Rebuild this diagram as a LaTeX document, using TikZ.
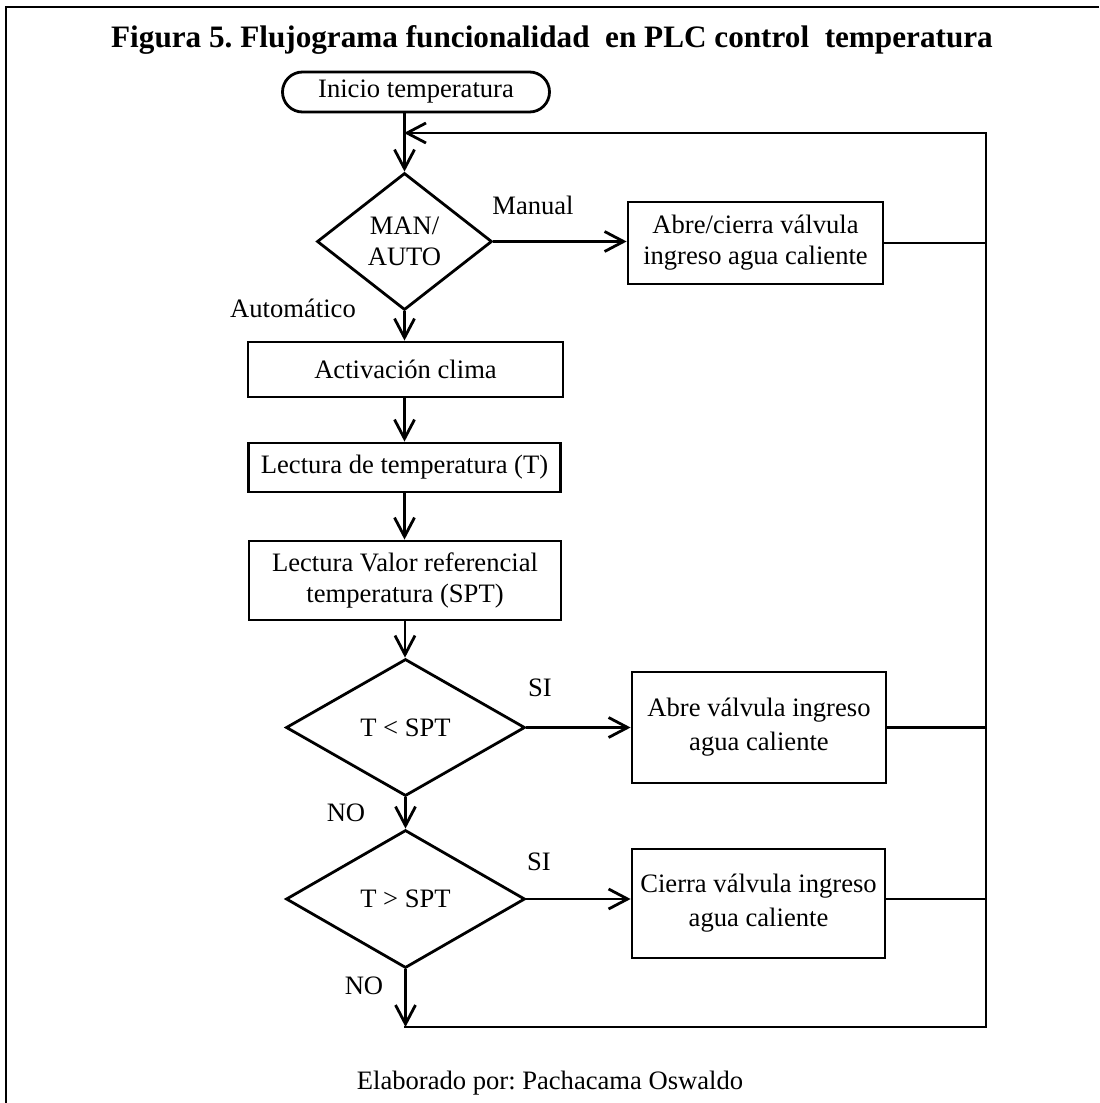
\documentclass[tikz,border=0pt]{standalone}
\usepackage{fontspec}
\setmainfont{Liberation Serif}
\usetikzlibrary{arrows.meta,shapes.geometric,shapes.misc}
\frenchspacing
\begin{document}
\begin{tikzpicture}[x=0.5pt,y=-0.5pt,
  line width=1.4pt,
  font=\fontsize{13.3}{15.5}\selectfont,
  flow/.style={-{Straight Barb[length=9.5pt,width=10pt]}},
  box/.style={draw,rectangle,inner sep=0pt,align=center},
  cond/.style={draw,diamond,inner sep=0pt,align=center},
  term/.style={draw,rounded rectangle,inner sep=0pt},
  lbl/.style={inner sep=0pt}]
\useasboundingbox (0,0) rectangle (1099,1103);

% page frame (top and left edges)
\draw[line width=1pt] (1099,7) -- (6,7) -- (6,1103);

% title and credit
\node[lbl,font=\fontsize{15.6}{18}\selectfont\bfseries] (title) at (552,40)
  {Figura 5. Flujograma funcionalidad\ \ en PLC control\ \ temperatura};
\node[lbl] (credit) at (550,1083) {Elaborado por: Pachacama Oswaldo};

% flow nodes
\node[term,minimum width=133.5pt,minimum height=20pt] (start) at (416,92) {Inicio temperatura};
\node[cond,minimum width=87.5pt,minimum height=68.5pt] (mode) at (404.5,241.5) {MAN/\\AUTO};
\node[box,minimum width=127.5pt,minimum height=41pt] (manual) at (755.5,243)
  {Abre/cierra válvula\\ingreso agua caliente};
\node[box,minimum width=157.5pt,minimum height=27.5pt] (clima) at (405.5,369.5) {Activación clima};
\node[box,minimum width=156pt,minimum height=24.5pt] (readT) at (404.5,467.5) {Lectura de temperatura (T)};
\node[box,minimum width=156pt,minimum height=39.5pt] (readSP) at (405,580.5)
  {Lectura Valor referencial\\temperatura (SPT)};
\node[cond,minimum width=119.5pt,minimum height=68.5pt] (lt) at (405.5,727.5) {T < SPT};
\node[box,minimum width=127pt,minimum height=55.5pt,font=\fontsize{13.3}{17}\selectfont] (open) at (759,727.5)
  {Abre válvula ingreso\\agua caliente};
\node[cond,minimum width=119.5pt,minimum height=69pt] (gt) at (405.5,899) {T > SPT};
\node[box,minimum width=126.5pt,minimum height=54.5pt,font=\fontsize{13.3}{17}\selectfont] (close) at (758.5,903.5)
  {Cierra válvula ingreso\\agua caliente};

% return loop corners
\coordinate (bl) at (404,1027);
\coordinate (br) at (986,1027);
\coordinate (tr) at (986,133);
\coordinate (tl) at (404,133);

% branch labels
\node[lbl] (lman) at (533,205) {Manual};
\node[lbl] (lauto) at (293,308) {Automático};
\node[lbl] (lsi1) at (540,688) {SI};
\node[lbl] (lno1) at (346,813) {NO};
\node[lbl] (lsi2) at (539,862) {SI};
\node[lbl] (lno2) at (364,986) {NO};

% connectors
\draw[flow] (start.south -| mode.north) -- (mode.north);
\draw[flow] (mode.east) -- (mode.east -| manual.west);
\draw[flow] (mode.south) -- (mode.south |- clima.north);
\draw[flow] (clima.south -| readT.north) -- (readT.north);
\draw[flow] (readT.south) -- (readT.south |- readSP.north);
\draw[flow] (readSP.south) -- (readSP.south |- lt.north);
\draw[flow] (lt.east) -- (lt.east -| open.west);
\draw[flow] (lt.south) -- (gt.north);
\draw[flow] (gt.east) -- (gt.east -| close.west);
\draw[flow] (gt.south) -- (gt.south |- bl);

% outputs joined back to the start of the loop
\draw (manual.east) -- (manual.east -| tr);
\draw (open.east) -- (open.east -| tr);
\draw (close.east |- gt.east) -- (gt.east -| tr);
\draw[flow] (bl) -- (br) -- (tr) -- (tl);
\end{tikzpicture}
\end{document}
